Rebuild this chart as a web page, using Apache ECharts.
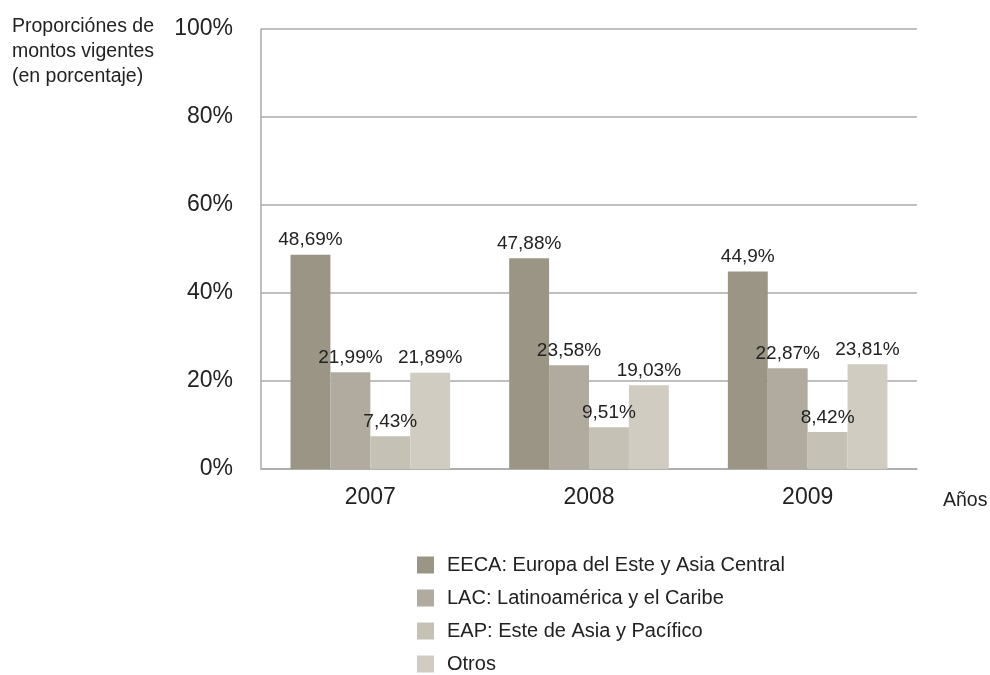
<!DOCTYPE html>
<html><head><meta charset="utf-8">
<script src="https://cdn.jsdelivr.net/npm/echarts@6/dist/echarts.min.js"></script>
<style>html,body{margin:0;padding:0;background:#fff}#c{width:990px;height:675px}</style>
</head><body><div id="c"></div>
<script>
var years = ['2007', '2008', '2009'];
var seriesNames = ['EECA: Europa del Este y Asia Central', 'LAC: Latinoamérica y el Caribe', 'EAP: Este de Asia y Pacífico', 'Otros'];
var eeca = [48.69, 47.88, 44.9];
var lac = [21.99, 23.58, 22.87];
var eap = [7.43, 9.51, 8.42];
var otros = [21.89, 19.03, 23.81];
var colors = ['#9b9585', '#b0ab9e', '#c5c1b5', '#d0ccc1'];
var FONT = '"Liberation Sans", Arial, Helvetica, sans-serif';

var chart = echarts.init(document.getElementById('c'), null, {renderer: 'canvas'});
function fmt(p) { return String(p.value).replace('.', ',') + '%'; }
var data = [eeca, lac, eap, otros];
var series = data.map(function (d, i) {
  return {
    name: seriesNames[i], type: 'bar', data: d,
    barGap: '0%', barCategoryGap: '27%',
    itemStyle: {color: colors[i]},
    label: {show: true, position: 'top', distance: 5, formatter: fmt,
      fontFamily: FONT, fontSize: 19, color: '#222'}
  };
});
chart.setOption({
  animation: false,
  textStyle: {fontFamily: FONT},
  title: [
    {text: 'Proporciónes de\nmontos vigentes\n(en porcentaje)', left: 7, top: 9,
     textStyle: {fontFamily: FONT, fontSize: 19.5, fontWeight: 'normal', color: '#222', lineHeight: 25}},
    {text: 'Años', left: 938, top: 486,
     textStyle: {fontFamily: FONT, fontSize: 19.5, fontWeight: 'normal', color: '#222'}}
  ],
  grid: {left: 261, right: 73, top: 29, bottom: 206},
  legend: {
    orient: 'vertical', left: 412, top: 550, height: 160, itemWidth: 17, itemHeight: 17, itemGap: 13,
    icon: 'rect', textStyle: {fontFamily: FONT, fontSize: 20, lineHeight: 20, color: '#222', padding: [0,0,0,8]},
    data: seriesNames
  },
  xAxis: {
    type: 'category', data: years,
    axisLine: {lineStyle: {color: '#aaa', width: 1.5}},
    axisTick: {show: false},
    axisLabel: {fontFamily: FONT, fontSize: 23, color: '#222', margin: 17}
  },
  yAxis: {
    type: 'value', min: 0, max: 100, interval: 20,
    axisLine: {show: true, lineStyle: {color: '#aaa', width: 1.5}},
    axisTick: {show: false},
    splitLine: {lineStyle: {color: '#aaa', width: 1.5}},
    axisLabel: {formatter: '{value}%', fontFamily: FONT, fontSize: 23, color: '#222', margin: 28}
  },
  series: series
});
</script></body></html>
